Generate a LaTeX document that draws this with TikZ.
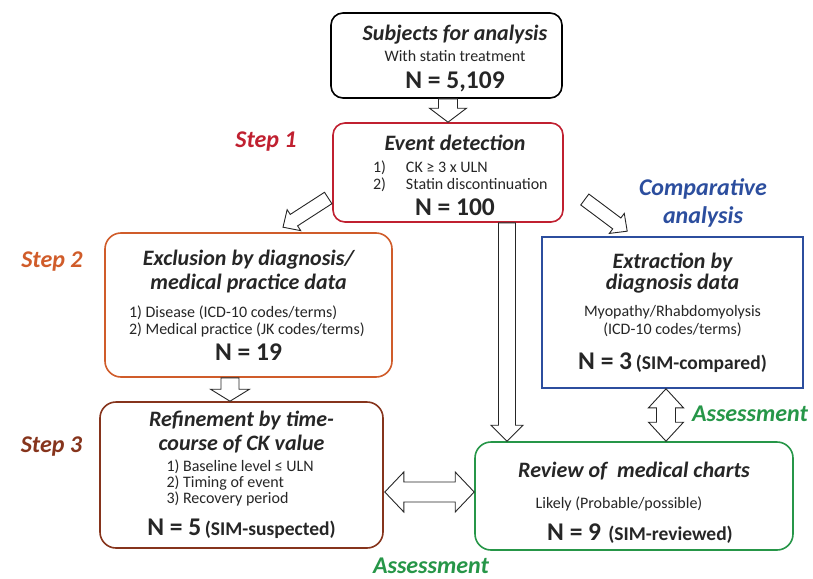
\documentclass[tikz,border=0pt]{standalone}
\usepackage{fontspec}
\setmainfont{Carlito}
\usepackage{xcolor}
\usetikzlibrary{calc,positioning}
\definecolor{evred}{RGB}{192,32,48}
\definecolor{exorange}{RGB}{208,92,42}
\definecolor{refbrown}{RGB}{134,52,28}
\definecolor{cmpblue}{RGB}{44,78,158}
\definecolor{asgreen}{RGB}{38,150,72}
\newcommand{\ttl}{\fontsize{22}{40}\selectfont\bfseries\itshape}
\newcommand{\bodytxt}{\fontsize{16}{40}\selectfont}
\newcommand{\nbig}{\fontsize{25.5}{40}\selectfont\bfseries}
\newcommand{\nmid}{\fontsize{19.5}{40}\selectfont\bfseries}
\newcommand{\steptxt}{\fontsize{24}{28}\selectfont\bfseries\itshape}
% hollow block arrows: from, to, half shaft, half head, head length
\newcommand{\fatarrow}[5]{%
  \coordinate (fah) at ($(#2)!#5!(#1)$);
  \draw[blk] ($(#1)!#3!90:(#2)$) -- ($(fah)!#3!90:(#2)$) -- ($(fah)!#4!90:(#2)$) -- (#2)
    -- ($(fah)!#4!-90:(#2)$) -- ($(fah)!#3!-90:(#2)$) -- ($(#1)!#3!-90:(#2)$) -- cycle;
}
\newcommand{\fatdarrow}[5]{%
  \coordinate (fda) at ($(#1)!#5!(#2)$);
  \coordinate (fdb) at ($(#2)!#5!(#1)$);
  \draw[blk] (#1) -- ($(fda)!#4!90:(#2)$) -- ($(fda)!#3!90:(#2)$) -- ($(fdb)!#3!90:(#2)$)
    -- ($(fdb)!#4!90:(#2)$) -- (#2) -- ($(fdb)!#4!-90:(#2)$) -- ($(fdb)!#3!-90:(#2)$)
    -- ($(fda)!#3!-90:(#2)$) -- ($(fda)!#4!-90:(#2)$) -- cycle;
}

\begin{document}
\begin{tikzpicture}[x=1pt, y=-1pt,
  box/.style={draw, line width=1.6pt, rounded corners=16pt, align=center, inner sep=0pt, fill=white, font=\bodytxt, text=black!85},
  blk/.style={draw=black!85, line width=0.9pt, fill=white, line join=miter},
  steplbl/.style={font=\steptxt, anchor=base}
]
  \useasboundingbox (0,0) rectangle (813,578);

  % Boxes
  \node[box, rounded corners=12pt, minimum width=231pt, minimum height=85pt] (subj) at (446.5,55.5)
    {\hspace*{17pt}{\ttl\rule{0pt}{22pt}Subjects for analysis}\\[-19pt]
     \hspace*{17pt}With statin treatment\\[-13pt]
     \hspace*{17pt}{\nbig N = 5,109}};
  \node[box, draw=evred, rounded corners=12pt, minimum width=230pt, minimum height=99pt] (event) at (448,172.5)
    {\hspace*{14pt}{\ttl\rule{0pt}{21pt}Event detection}\\[-18pt]
     \hspace*{14pt}\makebox[164pt][l]{\makebox[33pt][l]{1)}CK ≥ 3 x ULN}\\[-23pt]
     \hspace*{14pt}\makebox[164pt][l]{\makebox[33pt][l]{2)}Statin discontinuation}\\[-14pt]
     \hspace*{14pt}{\nbig N = 100}};
  \node[box, draw=exorange, minimum width=287pt, minimum height=144pt] (excl) at (248.5,305)
    {{\ttl Exclusion by diagnosis/}\\[-16pt] {\ttl medical practice data}\\[-12pt]
     \makebox[239pt][l]{1) Disease (ICD-10 codes/terms)}\\[-23pt]
     \makebox[239pt][l]{2) Medical practice (JK codes/terms)}\\[-14pt]
     {\nbig N = 19}};
  \node[box, draw=cmpblue, rounded corners=0pt, minimum width=261pt, minimum height=151pt] (extr) at (672.5,312.5)
    {{\ttl Extraction by}\\[-19pt] {\ttl diagnosis data}\\[-13pt] Myopathy/Rhabdomyolysis\\[-22pt] (ICD-10 codes/terms)\\[-5pt]
     {\nbig N = 3} {\nmid (SIM-compared)}};
  \node[box, draw=refbrown, minimum width=283pt, minimum height=146pt] (refine) at (241.5,475)
    {{\ttl Refinement by time-}\\[-16pt] {\ttl course of CK value}\\[-19pt]
     \makebox[150pt][l]{1) Baseline level ≤ ULN}\\[-24pt]
     \makebox[150pt][l]{2) Timing of event}\\[-24pt]
     \makebox[150pt][l]{3) Recovery period}\\[-8pt]
     {\nbig N = 5} {\nmid (SIM-suspected)}};
  \node[box, draw=asgreen, minimum width=318pt, minimum height=108pt] (review) at (634,496)
    {{\ttl\rule{0pt}{28pt}Review of\ \ medical charts}\\[-9pt]
     \hspace*{-30pt}Likely (Probable/possible)\\[-8pt]
     \hspace*{12pt}{\nbig N = 9}\ \ {\nmid (SIM-reviewed)}};

  % Labels
  \node[steplbl, text=evred] (s1) at (266,147) {Step 1};
  \node[steplbl, text=exorange] (s2) at (52,267) {Step 2};
  \node[steplbl, text=refbrown] (s3) at (51.5,452) {Step 3};
  \node[steplbl, text=cmpblue, align=center] (cmp) at (703,223) {Comparative\\ analysis};
  \node[steplbl, text=asgreen] (as1) at (750,421) {Assessment};
  \node[steplbl, text=asgreen] (as2) at (431,573) {Assessment};

  % Arrows
  \coordinate (a1) at ($(subj.south)+(1.5,0)$);
  \coordinate (b1) at (a1 |- event.north);
  \fatarrow{a1}{b1}{9.5pt}{18.5pt}{14pt}
  \coordinate (a2) at ($(event.west)+(-4,25.5)$);
  \coordinate (b2) at ($(excl.north)+(34.5,-5)$);
  \fatarrow{a2}{b2}{6.8pt}{12.5pt}{13pt}
  \coordinate (a3) at ($(event.east)+(21,27)$);
  \coordinate (b3) at ($(extr.north west)+(86,-5)$);
  \fatarrow{a3}{b3}{6.8pt}{12.5pt}{13pt}
  \coordinate (a4) at ($(event.south)+(59,0)$);
  \coordinate (b4) at (a4 |- review.north);
  \fatarrow{a4}{b4}{8.5pt}{16pt}{16pt}
  \coordinate (a5) at ($(extr.south)+(-6.5,0)$);
  \coordinate (b5) at (a5 |- review.north);
  \fatdarrow{a5}{b5}{9.5pt}{17.5pt}{19pt}
  \coordinate (a6) at ($(refine.east)+(1,17)$);
  \coordinate (b6) at (a6 -| review.west);
  \fatdarrow{a6}{b6}{10pt}{20pt}{19pt}
  \coordinate (a7) at ($(excl.south)+(-18.5,0)$);
  \coordinate (b7) at (a7 |- refine.north);
  \fatarrow{a7}{b7}{9pt}{19.5pt}{12pt}
\end{tikzpicture}
\end{document}
